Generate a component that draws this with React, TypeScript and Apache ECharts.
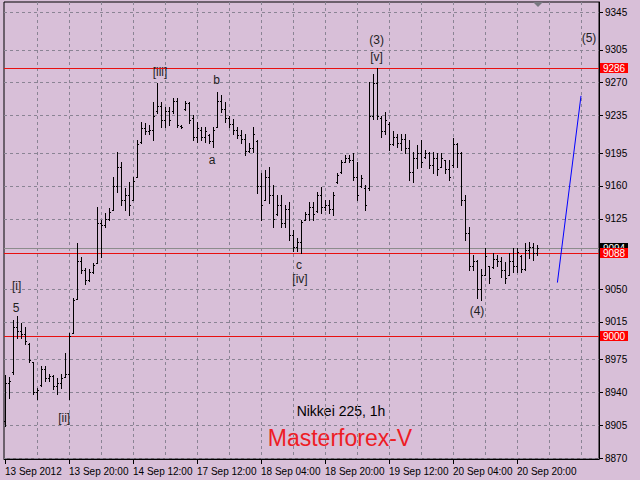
import React, { useEffect, useRef } from 'react';
import * as echarts from 'echarts';

// ---- data ----
const xTickLabels = ['13 Sep 2012', '13 Sep 20:00', '14 Sep 12:00', '17 Sep 12:00', '18 Sep 04:00', '18 Sep 20:00', '19 Sep 12:00', '20 Sep 04:00', '20 Sep 20:00'];
const xTickBars = [0, 16, 32, 48, 64, 80, 96, 112, 128];
const xGridBars = [8, 16, 24, 32, 40, 48, 56, 64, 72, 80, 88, 96, 104, 112, 120, 128, 136, 144];
const yTickLabels = [8870, 8905, 8940, 8975, 9015, 9050, 9125, 9160, 9195, 9235, 9270, 9305, 9345];

const opens = [
  8910, 8950, 8962, 9010, 9005, 9002, 8992, 8972, 8940, 8948,
  8965, 8955, 8957, 8947, 8950, 8956, 8960, 9003, 9040, 9080,
  9070, 9060, 9068, 9078, 9120, 9118, 9125, 9134, 9160, 9180,
  9145, 9150, 9145, 9169, 9207, 9222, 9218, 9220, 9240, 9245,
  9230, 9240, 9240, 9250, 9224, 9242, 9248, 9232, 9212, 9220,
  9212, 9214, 9208, 9223, 9250, 9242, 9232, 9226, 9220, 9214,
  9210, 9197, 9200, 9208, 9160, 9145, 9170, 9150, 9130, 9140,
  9120, 9135, 9108, 9095, 9100, 9124, 9130, 9138, 9133, 9150,
  9138, 9140, 9135, 9164, 9175, 9186, 9190, 9188, 9170, 9160,
  9158, 9158, 9235, 9270, 9232, 9218, 9226, 9205, 9212, 9206,
  9210, 9200, 9175, 9190, 9195, 9191, 9195, 9182, 9190, 9180,
  9188, 9178, 9182, 9205, 9195, 9145, 9110, 9075, 9080, 9050,
  9065, 9075, 9074, 9082, 9080, 9070, 9065, 9080, 9075, 9085,
  9072, 9092, 9095, 9088,
];
const highs = [
  8958, 8956, 9017, 9021, 9014, 9010, 8993, 8972, 8945, 8968,
  8968, 8960, 8958, 8955, 8960, 8982, 9003, 9041, 9099, 9084,
  9073, 9072, 9078, 9138, 9124, 9131, 9136, 9170, 9196, 9186,
  9158, 9164, 9169, 9209, 9228, 9227, 9225, 9249, 9270, 9249,
  9244, 9244, 9254, 9254, 9225, 9250, 9249, 9236, 9228, 9223,
  9223, 9215, 9223, 9260, 9257, 9249, 9234, 9231, 9223, 9220,
  9215, 9206, 9223, 9209, 9174, 9177, 9180, 9161, 9150, 9150,
  9140, 9143, 9113, 9104, 9124, 9132, 9143, 9143, 9154, 9159,
  9145, 9145, 9154, 9174, 9188, 9193, 9193, 9195, 9186, 9172,
  9161, 9271, 9279, 9286, 9234, 9239, 9228, 9218, 9215, 9215,
  9215, 9209, 9196, 9204, 9209, 9198, 9196, 9196, 9195, 9195,
  9188, 9188, 9211, 9206, 9196, 9150, 9116, 9086, 9081, 9072,
  9094, 9075, 9088, 9086, 9084, 9079, 9088, 9094, 9094, 9086,
  9099, 9100, 9099, 9097,
];
const lows = [
  8904, 8934, 8960, 8998, 8998, 8992, 8972, 8938, 8933, 8947,
  8952, 8952, 8944, 8938, 8945, 8956, 8933, 9003, 9040, 9067,
  9056, 9059, 9067, 9078, 9084, 9116, 9124, 9134, 9154, 9140,
  9134, 9129, 9145, 9169, 9206, 9215, 9215, 9209, 9238, 9223,
  9223, 9225, 9238, 9223, 9222, 9241, 9227, 9209, 9207, 9209,
  9207, 9206, 9201, 9223, 9239, 9228, 9223, 9215, 9211, 9206,
  9193, 9196, 9196, 9152, 9124, 9145, 9142, 9116, 9129, 9116,
  9116, 9102, 9091, 9091, 9088, 9124, 9124, 9124, 9132, 9131,
  9134, 9131, 9129, 9163, 9174, 9185, 9186, 9166, 9145, 9159,
  9134, 9156, 9231, 9231, 9212, 9215, 9198, 9204, 9202, 9198,
  9195, 9166, 9164, 9179, 9180, 9190, 9179, 9174, 9172, 9180,
  9174, 9166, 9180, 9180, 9140, 9102, 9070, 9070, 9041, 9038,
  9065, 9057, 9073, 9075, 9063, 9057, 9065, 9068, 9068, 9068,
  9070, 9083, 9081, 9086,
];
const closes = [
  8950, 8952, 9010, 9005, 9002, 8995, 8975, 8940, 8943, 8965,
  8955, 8957, 8947, 8950, 8955, 8960, 9000, 9038, 9080, 9070,
  9060, 9068, 9076, 9120, 9118, 9125, 9132, 9160, 9180, 9145,
  9150, 9140, 9165, 9205, 9222, 9218, 9220, 9235, 9245, 9230,
  9240, 9230, 9250, 9225, 9223, 9248, 9230, 9212, 9222, 9212,
  9218, 9208, 9220, 9250, 9242, 9232, 9226, 9220, 9214, 9210,
  9197, 9200, 9215, 9160, 9140, 9170, 9150, 9125, 9140, 9120,
  9135, 9108, 9095, 9100, 9122, 9130, 9138, 9130, 9150, 9138,
  9140, 9135, 9150, 9172, 9185, 9190, 9188, 9170, 9150, 9168,
  9140, 9235, 9270, 9235, 9218, 9230, 9205, 9212, 9206, 9210,
  9200, 9175, 9190, 9195, 9185, 9195, 9182, 9190, 9178, 9190,
  9178, 9170, 9205, 9195, 9145, 9110, 9075, 9080, 9050, 9065,
  9085, 9062, 9082, 9080, 9070, 9062, 9080, 9075, 9090, 9072,
  9092, 9095, 9088, 9094,
];

const waveLabels = ['[i]', '5', '[ii]', '[iii]', 'b', 'a', 'c', '[iv]', '(3)', '[v]', '(4)', '(5)'];
const waveBars = [2.9, 2.75, 14.8, 38.75, 52.9, 51.75, 73.5, 73.75, 92.9, 92.9, 118, 146];
const wavePrices = [9053, 9030, 8913, 9281, 9273, 9188, 9076, 9061, 9316, 9297, 9027, 9318];

const trendBars = [138.1, 144];
const trendPrices = [9057, 9256];

// price levels: bid line first (drawn underneath), then the red levels
const levelPrices = [9094, 9286, 9088, 9000];
const levelKinds = ['bid', 'red', 'red', 'red'];

const titleText = 'Nikkei 225, 1h';
const brandText = 'Masterforex-V';

const FONT = '"Liberation Sans", Arial, sans-serif';
const BG = '#D8BFD8';
const GRID_COLOR = '#8a8494';

export default function App() {
  const ref = useRef<HTMLDivElement>(null);
  useEffect(() => {
    const chart = echarts.init(ref.current!, undefined, { renderer: 'svg' });
    const bars = opens.map((o, i) => [i, o, highs[i], lows[i], closes[i]]);
    const waves = waveBars.map((b, i) => [b, wavePrices[i]]);
    const trend = trendBars.map((b, i) => [b, trendPrices[i]]);
    const levels = levelPrices.map((p) => [0, p]);

    const option: any = {
      animation: false,
      backgroundColor: BG,
      grid: { left: 4, right: 41, top: 2, bottom: 21, show: true, borderColor: '#000', borderWidth: 1, backgroundColor: 'transparent' },
      xAxis: [
        {
          type: 'value', min: -0.25, max: 148.5, position: 'bottom',
          axisLine: { show: true, onZero: false, lineStyle: { color: '#000', width: 1 } },
          axisTick: { show: true, customValues: xTickBars, length: 5, lineStyle: { color: '#000' } },
          axisLabel: {
            customValues: xTickBars,
            formatter: (v: number) => { const k = xTickBars.indexOf(Math.round(v)); return k >= 0 ? xTickLabels[k] : ''; },
            align: 'left', color: '#000', fontSize: 10, fontFamily: FONT, margin: 7,
          },
          splitLine: { show: false },
        },
        {
          type: 'value', min: -0.25, max: 148.5, position: 'top',
          axisLine: { show: false, onZero: false },
          axisTick: { show: false, customValues: xGridBars },
          axisLabel: { show: false },
          splitLine: { show: true, lineStyle: { color: GRID_COLOR, type: [3, 3], width: 1 } },
        },
      ],
      yAxis: {
        type: 'value', min: 8869, max: 9356, position: 'right',
        axisLine: { show: true, onZero: false, lineStyle: { color: '#000', width: 1 } },
        axisTick: { show: true, customValues: yTickLabels, length: 4, lineStyle: { color: '#000' } },
        axisLabel: { customValues: yTickLabels, color: '#000', fontSize: 10, fontFamily: FONT, margin: 6, formatter: (v: number) => String(Math.round(v)) },
        splitLine: { show: true, lineStyle: { color: GRID_COLOR, type: [3, 3], width: 1 } },
      },
      series: [
        {
          type: 'custom',
          name: 'levels',
          xAxisIndex: 0, yAxisIndex: 0,
          silent: true,
          clip: false,
          data: levels,
          renderItem: (params: any, api: any) => {
            const cs = params.coordSys;
            const p = api.coord([0, api.value(1)]);
            const y = Math.round(p[1]);
            const isBid = levelKinds[params.dataIndex] === 'bid';
            const boxX = cs.x + cs.width + 1;
            return {
              type: 'group',
              children: [
                { type: 'rect', shape: { x: cs.x, y, width: cs.width, height: 1 }, style: { fill: isBid ? '#8c8c8c' : '#e81010' } },
                { type: 'rect', shape: { x: boxX, y: y - 5, width: 28, height: 10 }, style: { fill: isBid ? '#000000' : '#ff0000' } },
                {
                  type: 'text', x: boxX + 14, y: y + 0.5,
                  style: {
                    text: String(api.value(1)), fill: '#ffffff', font: '10px ' + FONT,
                    align: 'center', verticalAlign: 'middle', textAlign: 'center', textVerticalAlign: 'middle',
                  },
                },
              ],
            };
          },
          z: 2,
        },
        {
          type: 'custom',
          name: 'bars',
          xAxisIndex: 0, yAxisIndex: 0,
          silent: true,
          clip: true,
          encode: { x: 0, y: [1, 2, 3, 4] },
          data: bars,
          renderItem: (params: any, api: any) => {
            const i = api.value(0);
            const ph = api.coord([i, api.value(2)]);
            const pl = api.coord([i, api.value(3)]);
            const po = api.coord([i, api.value(1)]);
            const pc = api.coord([i, api.value(4)]);
            const x = Math.round(ph[0]);
            const yH = Math.round(ph[1]);
            const yL = Math.round(pl[1]);
            return {
              type: 'group',
              children: [
                { type: 'rect', shape: { x, y: yH, width: 1, height: Math.max(1, yL - yH + 1) }, style: { fill: '#000' } },
                { type: 'rect', shape: { x: x - 1, y: Math.round(po[1]), width: 1, height: 1 }, style: { fill: '#000' } },
                { type: 'rect', shape: { x: x + 1, y: Math.round(pc[1]), width: 1, height: 1 }, style: { fill: '#000' } },
              ],
            };
          },
          z: 3,
        },
        {
          type: 'line',
          name: 'trend',
          xAxisIndex: 0, yAxisIndex: 0,
          data: trend,
          symbol: 'none',
          silent: true,
          lineStyle: { color: '#0000ff', width: 1 },
          z: 4,
        },
        {
          type: 'custom',
          name: 'waves',
          xAxisIndex: 0, yAxisIndex: 0,
          silent: true,
          clip: false,
          data: waves,
          renderItem: (params: any, api: any) => {
            const p = api.coord([api.value(0), api.value(1)]);
            const t = waveLabels[params.dataIndex];
            return {
              type: 'text',
              x: p[0], y: p[1],
              style: {
                text: t, fill: '#1e1e1e', font: '12px ' + FONT,
                align: 'center', verticalAlign: 'middle', textAlign: 'center', textVerticalAlign: 'middle',
              },
            };
          },
          z: 5,
        },
      ],
      graphic: [
        {
          type: 'polygon', silent: true,
          shape: { points: [[533, 2], [543, 2], [538, 7]] },
          style: { fill: '#787880' },
        },
        {
          type: 'text', silent: true, x: 341, y: 411,
          style: { text: titleText, fill: '#000', font: '14px ' + FONT, align: 'center', verticalAlign: 'middle', textAlign: 'center', textVerticalAlign: 'middle' },
        },
        {
          type: 'text', silent: true, x: 340, y: 438,
          style: { text: brandText, fill: '#ee1c25', font: '23px ' + FONT, align: 'center', verticalAlign: 'middle', textAlign: 'center', textVerticalAlign: 'middle' },
        },
      ],
    };
    chart.setOption(option);
    return () => chart.dispose();
  }, []);
  return <div ref={ref} style={{ position: 'absolute', left: 0, top: 0, width: 640, height: 480, background: BG }} />;
}
